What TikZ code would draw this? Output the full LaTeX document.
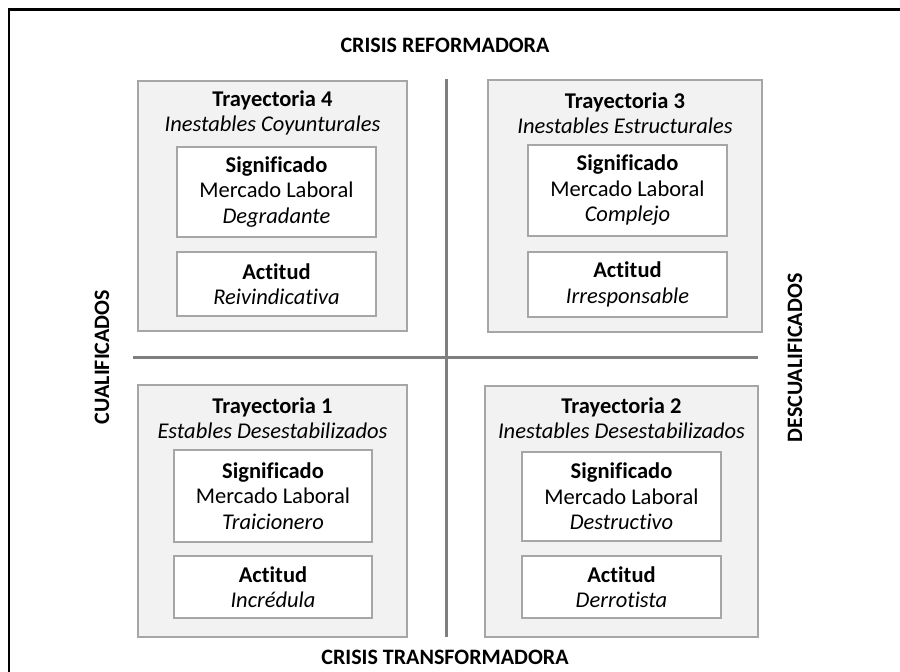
\documentclass[tikz,border=0pt]{standalone}
\usepackage{fontspec}
\setmainfont[Ligatures=NoCommon]{Carlito}
\definecolor{quadfill}{HTML}{F2F2F2}
\definecolor{quaddraw}{HTML}{A6A6A6}
\definecolor{axisgray}{HTML}{7F7F7F}
\begin{document}
\begin{tikzpicture}[x=1pt,y=-1pt,
  quad/.style={draw=quaddraw, fill=quadfill, line width=1.3pt, inner sep=0pt, outer sep=0pt, anchor=north west},
  inbox/.style={draw=quaddraw, fill=white, line width=1.1pt, inner sep=0pt, outer sep=0pt, align=center, font=\fontsize{22.5}{25.5}\selectfont},
  txt/.style={align=center, inner sep=0pt, font=\fontsize{22.5}{25.5}\selectfont},
  axlabel/.style={inner sep=0pt, font=\fontsize{22}{25.5}\selectfont\bfseries},
  axisline/.style={draw=axisgray, line width=3pt},
  frame/.style={draw=black, line width=2.5pt}
]
\useasboundingbox (0,0) rectangle (900,672);
% outer frame (top and left edges visible)
\coordinate (fTL) at (9,9.5);
\coordinate (fTR) at (900,9.5);
\coordinate (fBL) at (9,672);
\draw[frame] (fTR) -- (fTL) -- (fBL);

% quadrant boxes
\node[quad, minimum width=269pt, minimum height=250pt] (q4) at (138,81) {};
\node[quad, minimum width=274pt, minimum height=252pt] (q3) at (488,80) {};
\node[quad, minimum width=269pt, minimum height=252pt] (q1) at (138,385) {};
\node[quad, minimum width=273pt, minimum height=251pt] (q2) at (485,386) {};

% axes
\coordinate (vT) at (446,79);
\coordinate (vB) at (446,637);
\coordinate (hL) at (133,357);
\coordinate (hR) at (758,357);
\draw[axisline] (vT) -- (vB);
\draw[axisline] (hL) -- (hR);

% Trayectoria 4
\node[txt] (t4) at (272.5,113) {\textbf{Trayectoria 4}\\\textit{Inestables Coyunturales}};
\node[inbox, minimum width=199pt, minimum height=90pt] (s4) at (276.5,192) {\textbf{Significado}\\Mercado Laboral\\\textit{Degradante}};
\node[inbox, minimum width=199pt, minimum height=64pt] (a4) at (276.5,284) {\textbf{Actitud}\\\textit{Reivindicativa}};

% Trayectoria 3
\node[txt] (t3) at (625,113) {\textbf{Trayectoria 3}\\\textit{Inestables Estructurales}};
\node[inbox, minimum width=199pt, minimum height=91pt] (s3) at (627.5,190.5) {\textbf{Significado}\\Mercado Laboral\\\textit{Complejo}};
\node[inbox, minimum width=199pt, minimum height=65pt] (a3) at (627.5,284.5) {\textbf{Actitud}\\\textit{Irresponsable}};

% Trayectoria 1
\node[txt] (t1) at (272.5,418) {\textbf{Trayectoria 1}\\\textit{Estables Desestabilizados}};
\node[inbox, minimum width=198pt, minimum height=92pt] (s1) at (273,496) {\textbf{Significado}\\Mercado Laboral\\\textit{Traicionero}};
\node[inbox, minimum width=198pt, minimum height=62pt] (a1) at (273,587) {\textbf{Actitud}\\\textit{Incrédula}};

% Trayectoria 2
\node[txt] (t2) at (621.5,418) {\textbf{Trayectoria 2}\\\textit{Inestables Desestabilizados}};
\node[inbox, minimum width=199pt, minimum height=89pt] (s2) at (621.5,496.5) {\textbf{Significado}\\Mercado Laboral\\\textit{Destructivo}};
\node[inbox, minimum width=199pt, minimum height=62pt] (a2) at (621.5,587) {\textbf{Actitud}\\\textit{Derrotista}};

% axis labels
\node[axlabel] (top) at (445,45) {CRISIS REFORMADORA};
\node[axlabel] (bot) at (445,657) {CRISIS TRANSFORMADORA};
\node[axlabel, rotate=90] (lft) at (102,357) {CUALIFICADOS};
\node[axlabel, rotate=90] (rgt) at (795,358) {DESCUALIFICADOS};
\end{tikzpicture}
\end{document}
